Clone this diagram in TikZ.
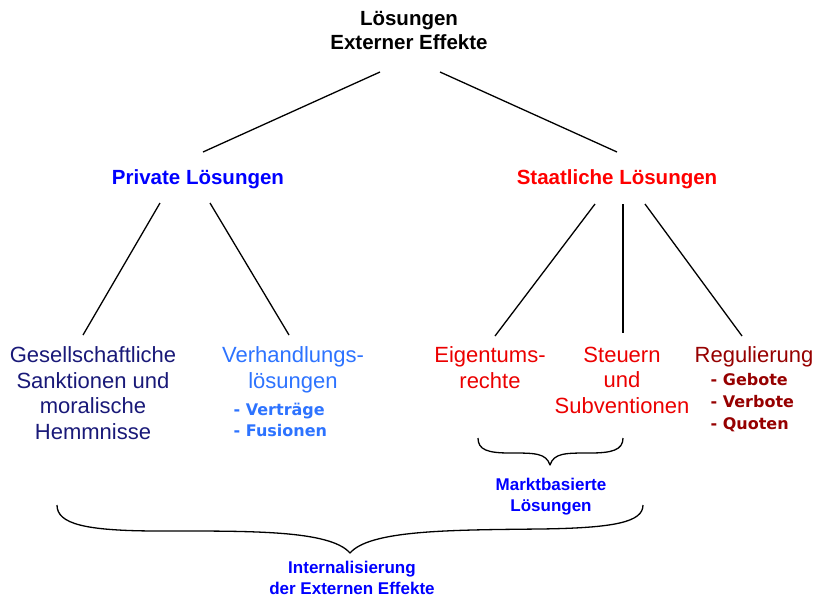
\documentclass[tikz,border=0pt]{standalone}
\usepackage{fontspec}
\setmainfont{Liberation Sans}
\newfontfamily\listfont{DejaVu Sans}
\usepackage{tikz}
\usetikzlibrary{positioning}
\definecolor{navytext}{RGB}{25,25,120}
\definecolor{lightblue}{RGB}{45,115,255}
\definecolor{staatred}{RGB}{235,0,0}
\definecolor{regred}{RGB}{150,0,0}

\begin{document}
\begin{tikzpicture}[
		x=1pt,
		y=-1pt,
		line width=1.3pt,
		head node/.style={font=\fontsize{20.5}{23.5}\selectfont\bfseries, inner sep=0pt, align=center}
		,
		leaf node/.style={font=\fontsize{22}{25.5}\selectfont, inner sep=0pt, align=center, anchor=north}
		,
		list node/.style={font=\fontsize{16}{21.7}\selectfont\listfont\bfseries, inner sep=0pt, align=left, anchor=north west}
		,
		note node/.style={font=\fontsize{17}{20.5}\selectfont\bfseries, inner sep=0pt, align=center, anchor=north, blue}
		,
		brace line/.style={line width=1.3pt, line join=round}
		]
		\useasboundingbox (0,0) rectangle (817,598);

		\node[head node, anchor=north] (root) at (409,11) {Lösungen\\Externer Effekte};
		\node[head node, anchor=base, blue] (priv) at (198,184) {Private Lösungen};
		\node[head node, anchor=base, red] (staat) at (617,184) {Staatliche Lösungen};

		\node[leaf node, navytext] (ges) at (93,346) {Gesellschaftliche\\Sanktionen und\\moralische\\Hemmnisse};
		\node[leaf node, lightblue] (verh) at (293,346) {Verhandlungs-\\lösungen};
		\node[list node, lightblue] (verhlist) at (233,402) {- Verträge\\- Fusionen};
		\node[leaf node, staatred] (eig) at (490,346) {Eigentums-\\rechte};
		\node[leaf node, staatred] (steu) at (622,346) {Steuern\\und\\Subventionen};
		\node[leaf node, regred] (reg) at (754,346) {Regulierung};
		\node[list node, regred] (reglist) at (710,373) {- Gebote\\- Verbote\\- Quoten};

		\node[note node] (markt) at (551,478) {Marktbasierte\\Lösungen};
		\node[note node] (intern) at (352,561) {Internalisierung\\der Externen Effekte};

		\coordinate (root-l) at (380,72);
		\coordinate (root-r) at (440,72);
		\coordinate (priv-top) at (203,152);
		\coordinate (staat-top) at (617,152);
		\coordinate (priv-l) at (160,203);
		\coordinate (priv-r) at (210,203);
		\coordinate (staat-l) at (595,204);
		\coordinate (staat-m) at (623,204);
		\coordinate (staat-r) at (645,204);
		\coordinate (ges-top) at (83,335);
		\coordinate (verh-top) at (289,335);
		\coordinate (eig-top) at (495,336);
		\coordinate (steu-top) at (623,333);
		\coordinate (reg-top) at (742,336);

		\path
		(root-l) edge (priv-top)
		(root-r) edge (staat-top)
		(priv-l) edge (ges-top)
		(priv-r) edge (verh-top)
		(staat-l) edge (eig-top)
		(staat-m) edge (steu-top)
		(staat-r) edge (reg-top);

		\draw[brace line] (478,438) .. controls (478,450) and (488,453) .. (510,453)
			.. controls (535,453) and (546,453) .. (550,465)
			.. controls (554,453) and (565,453) .. (590,453)
			.. controls (612,453) and (623,450) .. (623,438);
		\draw[brace line] (57,505) .. controls (57,524) and (85,531) .. (160,531)
			.. controls (250,531) and (330,530) .. (350,553)
			.. controls (370,530) and (450,530) .. (540,529)
			.. controls (615,528) and (643,522) .. (643,505);
	\end{tikzpicture}
\end{document}
